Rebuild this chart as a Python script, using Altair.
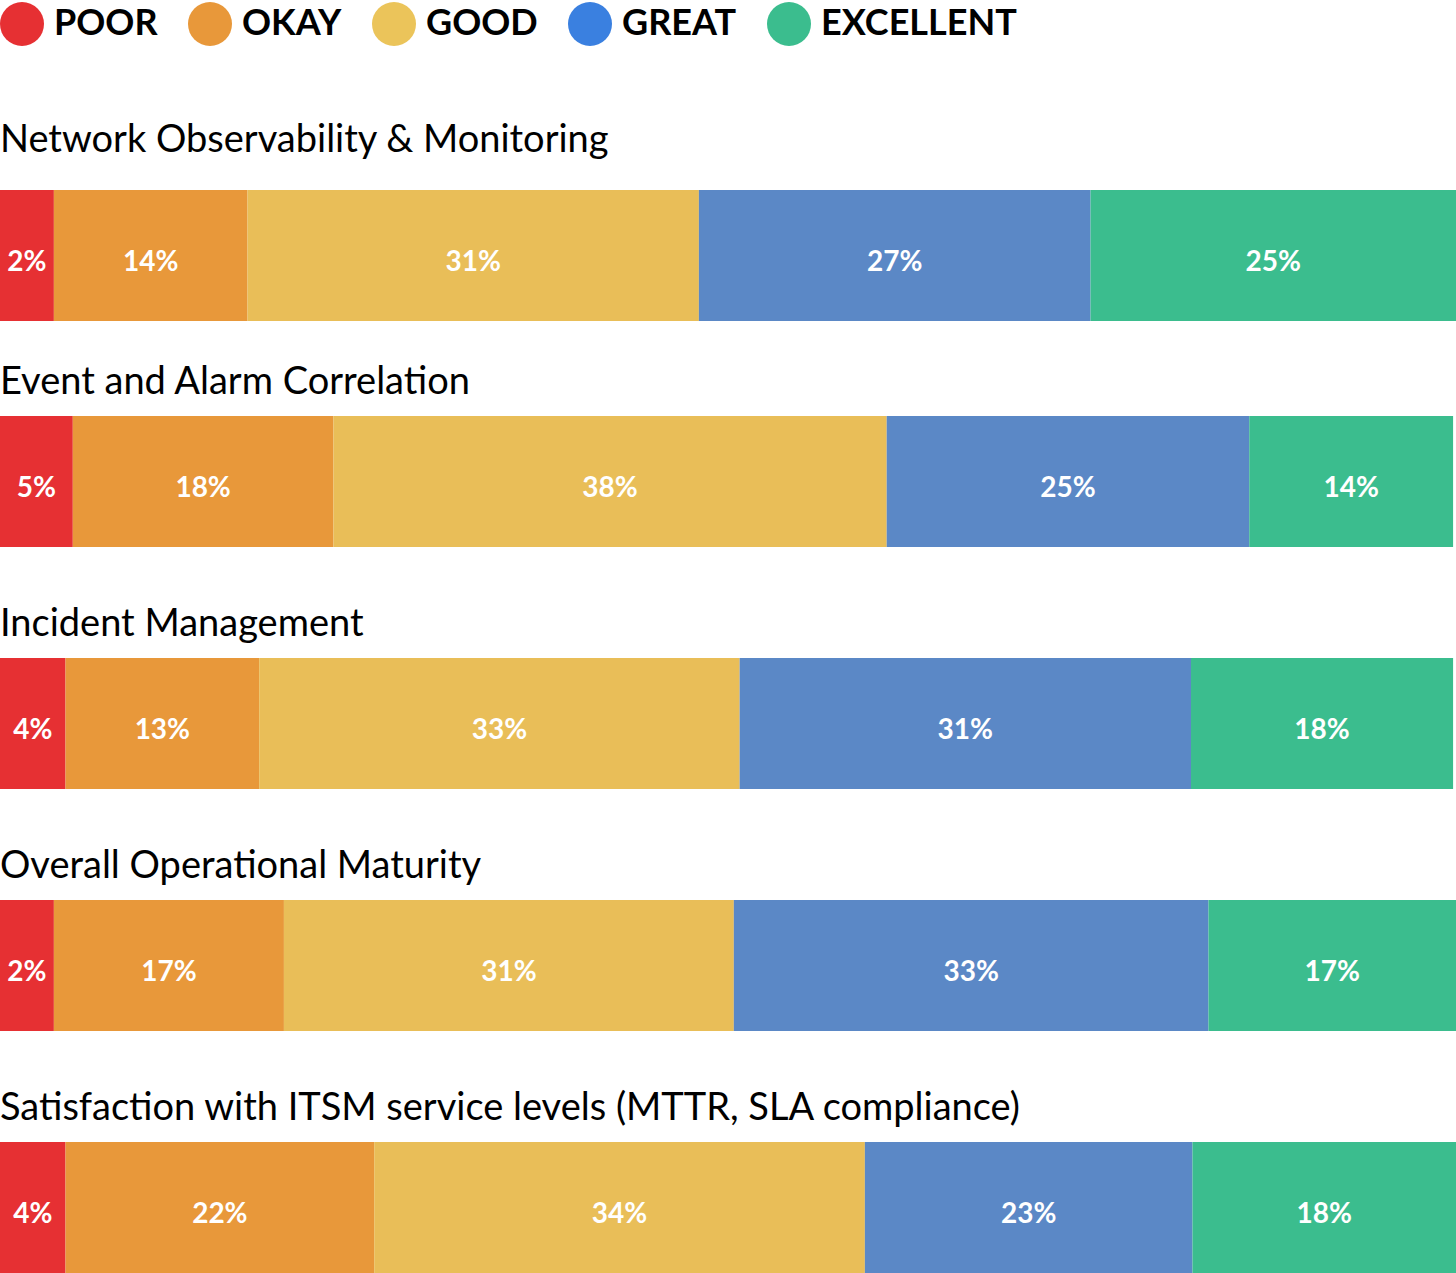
import altair as alt
import pandas as pd

tasks = [
    "Network Observability & Monitoring",
    "Event and Alarm Correlation",
    "Incident Management",
    "Overall Operational Maturity",
    "Satisfaction with ITSM service levels (MTTR, SLA compliance)",
]
ratings = ["POOR", "OKAY", "GOOD", "GREAT", "EXCELLENT"]
bar_colors = ["#E63033", "#E8983A", "#E9BE58", "#5B88C6", "#3BBD8E"]
legend_colors = ["#E63033", "#E8983A", "#EBC45A", "#3A80E0", "#3BBD8E"]

# printed percentages
labels = [
    [2, 14, 31, 27, 25],
    [5, 18, 38, 25, 14],
    [4, 13, 33, 31, 18],
    [2, 17, 31, 33, 17],
    [4, 22, 34, 23, 18],
]
# drawn segment lengths (percent of full width)
shares = [
    [3.7, 13.3, 31.0, 26.9, 25.1],
    [5.0, 17.9, 38.0, 24.9, 14.0],
    [4.5, 13.3, 33.0, 31.0, 18.0],
    [3.7, 15.8, 30.9, 32.6, 17.0],
    [4.5, 21.2, 33.7, 22.5, 18.1],
]

rows = []
for t, lab, sh in zip(tasks, labels, shares):
    for k, r in enumerate(ratings):
        rows.append(dict(task=t, rating=r, order=k, share=sh[k], label=f"{lab[k]}%"))
df = pd.DataFrame(rows)

FONT = "Lato"
xscale = alt.Scale(domain=[0, 100], nice=False, zero=True)


def panel(task, offset):
    base = (
        alt.Chart(df)
        .transform_filter(alt.datum.task == task)
        .transform_stack(stack="share", groupby=["task"], as_=["s0", "s1"],
                         sort=[alt.SortField("order")])
    )
    bars = base.mark_bar(strokeWidth=0).encode(
        x=alt.X("s0:Q", axis=None, scale=xscale),
        x2="s1:Q",
        y=alt.Y("task:N", axis=None, scale=alt.Scale(paddingInner=0, paddingOuter=0)),
        color=alt.Color("rating:N", scale=alt.Scale(domain=ratings, range=bar_colors), legend=None),
    )
    text = base.transform_calculate(mid="(datum.s0 + datum.s1) / 2").mark_text(
        font=FONT, fontSize=28, fontWeight="bold", color="white",
        align="center", baseline="middle", dy=7,
    ).encode(
        x=alt.X("mid:Q", axis=None, scale=xscale),
        y=alt.Y("task:N", axis=None),
        text="label:N",
    )
    return alt.layer(bars, text).properties(
        width=1456, height=131,
        title=alt.TitleParams(task, anchor="start", font=FONT, fontSize=38,
                              fontWeight="normal", color="#000", offset=offset),
    )


legend_chart = alt.Chart(df).mark_circle(opacity=0).encode(
    color=alt.Color(
        "rating:N",
        scale=alt.Scale(domain=ratings, range=legend_colors),
        sort=ratings,
        legend=alt.Legend(
            title=None, orient="top", direction="horizontal", symbolType="circle",
            symbolSize=1936, symbolOpacity=1, symbolStrokeWidth=0,
            labelFont=FONT, labelFontSize=36, labelFontWeight="bold", labelColor="#000",
            labelOffset=10, columnPadding=30, padding=0, offset=0, labelLimit=400,
        ),
    )
).properties(width=1456, height=33)

inner = alt.vconcat(*[panel(t, 14) for t in tasks[1:]], spacing=59)
chart = alt.vconcat(legend_chart, panel(tasks[0], 30), inner, spacing=43).resolve_scale(
    color="independent"
).properties(
    padding={"top": 2, "left": 0, "right": 0, "bottom": 0}, background="white"
).configure_view(stroke=None)

chart.save("out.html", embed_options={"renderer": "svg", "actions": False})
